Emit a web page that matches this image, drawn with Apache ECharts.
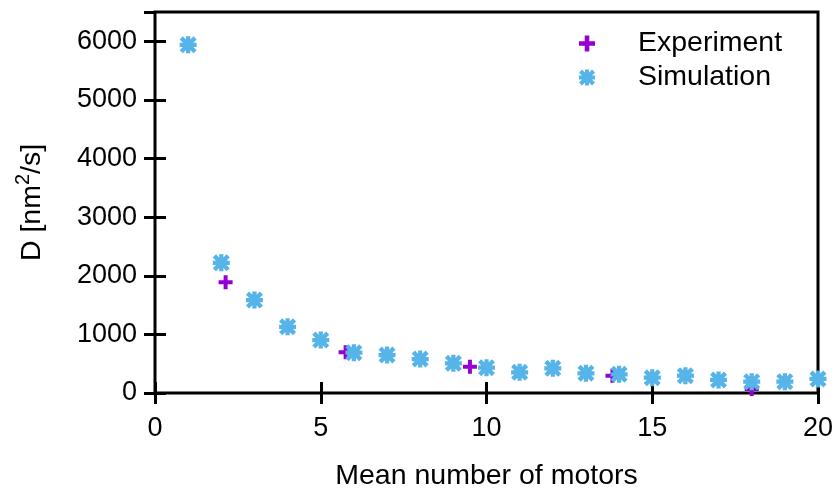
<!DOCTYPE html>
<html>
<head>
<meta charset="utf-8">
<script src="https://cdn.jsdelivr.net/npm/echarts@6/dist/echarts.min.js"></script>
<style>
html, body { margin: 0; padding: 0; background: #fff; }
#chart { width: 835px; height: 491px; }
</style>
</head>
<body>
<div id="chart"></div>
<script>
// values
var expX = [2.13, 5.75, 9.5, 13.8, 18.0];
var expY = [1890, 694, 449, 295, 68];
var simX = [1, 2, 3, 4, 5, 6, 7, 8, 9, 10, 11, 12, 13, 14, 15, 16, 17, 18, 19, 20];
var simY = [5940, 2221, 1585, 1130, 903, 687, 648, 580, 506, 432, 353, 421, 336, 319, 261, 295, 222, 193, 193, 239];

var plusPath = 'path://M5,0 H9 V5 H14 V9 H9 V14 H5 V9 H0 V5 H5 Z';
var starPath = 'path://M6,0 H10 V6 H16 V10 H10 V16 H6 V10 H0 V6 H6 Z' +
    ' M0,3 L3,0 L16,13 L13,16 Z M13,0 L16,3 L3,16 L0,13 Z';

function pairs(xs, ys) {
    var out = [];
    for (var i = 0; i < xs.length; i++) out.push([xs[i], ys[i]]);
    return out;
}

var font = 'Liberation Sans';
var chart = echarts.init(document.getElementById('chart'));

var tickIn = { show: true, inside: true, length: 11, lineStyle: { color: '#000', width: 3 } };

var option = {
    animation: false,
    backgroundColor: '#fff',
    grid: {
        left: 155, right: 17, top: 12, bottom: 98,
        outerBoundsMode: 'none', containLabel: false,
        show: true, borderColor: '#000', borderWidth: 3, backgroundColor: 'transparent'
    },
    legend: {
        orient: 'vertical',
        left: 574, top: 24,
        itemWidth: 22, itemHeight: 16, itemGap: 5,
        textStyle: { fontFamily: font, fontSize: 28.5, color: '#000', padding: [0, 0, 0, 35] },
        data: [
            { name: 'Experiment', icon: plusPath },
            { name: 'Simulation', icon: starPath }
        ]
    },
    xAxis: [{
        type: 'value', min: 0, max: 20, interval: 5,
        axisLine: { show: false },
        axisTick: tickIn,
        splitLine: { show: false },
        axisLabel: { fontFamily: font, fontSize: 27, color: '#000', margin: 22 },
        name: 'Mean number of motors', nameLocation: 'middle', nameGap: 69,
        nameTextStyle: { fontFamily: font, fontSize: 28.5, color: '#000' }
    }, {
        type: 'value', position: 'top', min: 0, max: 20, interval: 5,
        axisLine: { show: false }, axisTick: tickIn,
        splitLine: { show: false }, axisLabel: { show: false }
    }],
    yAxis: [{
        type: 'value', min: 0, max: 6500, interval: 1000,
        axisLine: { show: false },
        axisTick: tickIn,
        splitLine: { show: false },
        axisLabel: {
            fontFamily: font, fontSize: 27, color: '#000', margin: 18,
            showMaxLabel: false,
            formatter: function (v) { return v % 1000 ? '' : String(v); }
        },
        name: '{a|D [nm}{s|2}{a|/s]}', nameLocation: 'middle', nameGap: 108,
        nameTextStyle: {
            fontFamily: font, fontSize: 28.5, color: '#000',
            rich: {
                a: { fontFamily: font, fontSize: 28.5, color: '#000', lineHeight: 34, verticalAlign: 'bottom' },
                s: { fontFamily: font, fontSize: 20, color: '#000', lineHeight: 34, verticalAlign: 'top' }
            }
        }
    }, {
        type: 'value', position: 'right', min: 0, max: 6500, interval: 1000,
        axisLine: { show: false }, axisTick: tickIn,
        splitLine: { show: false }, axisLabel: { show: false }
    }],
    series: [{
        name: 'Experiment',
        type: 'scatter',
        symbol: plusPath,
        symbolSize: 14,
        itemStyle: { color: '#9400d3', opacity: 1 },
        data: pairs(expX, expY)
    }, {
        name: 'Simulation',
        type: 'scatter',
        symbol: starPath,
        symbolSize: 17,
        itemStyle: { color: '#56b4e9', opacity: 1 },
        data: pairs(simX, simY)
    }]
};

chart.setOption(option);
</script>
</body>
</html>
